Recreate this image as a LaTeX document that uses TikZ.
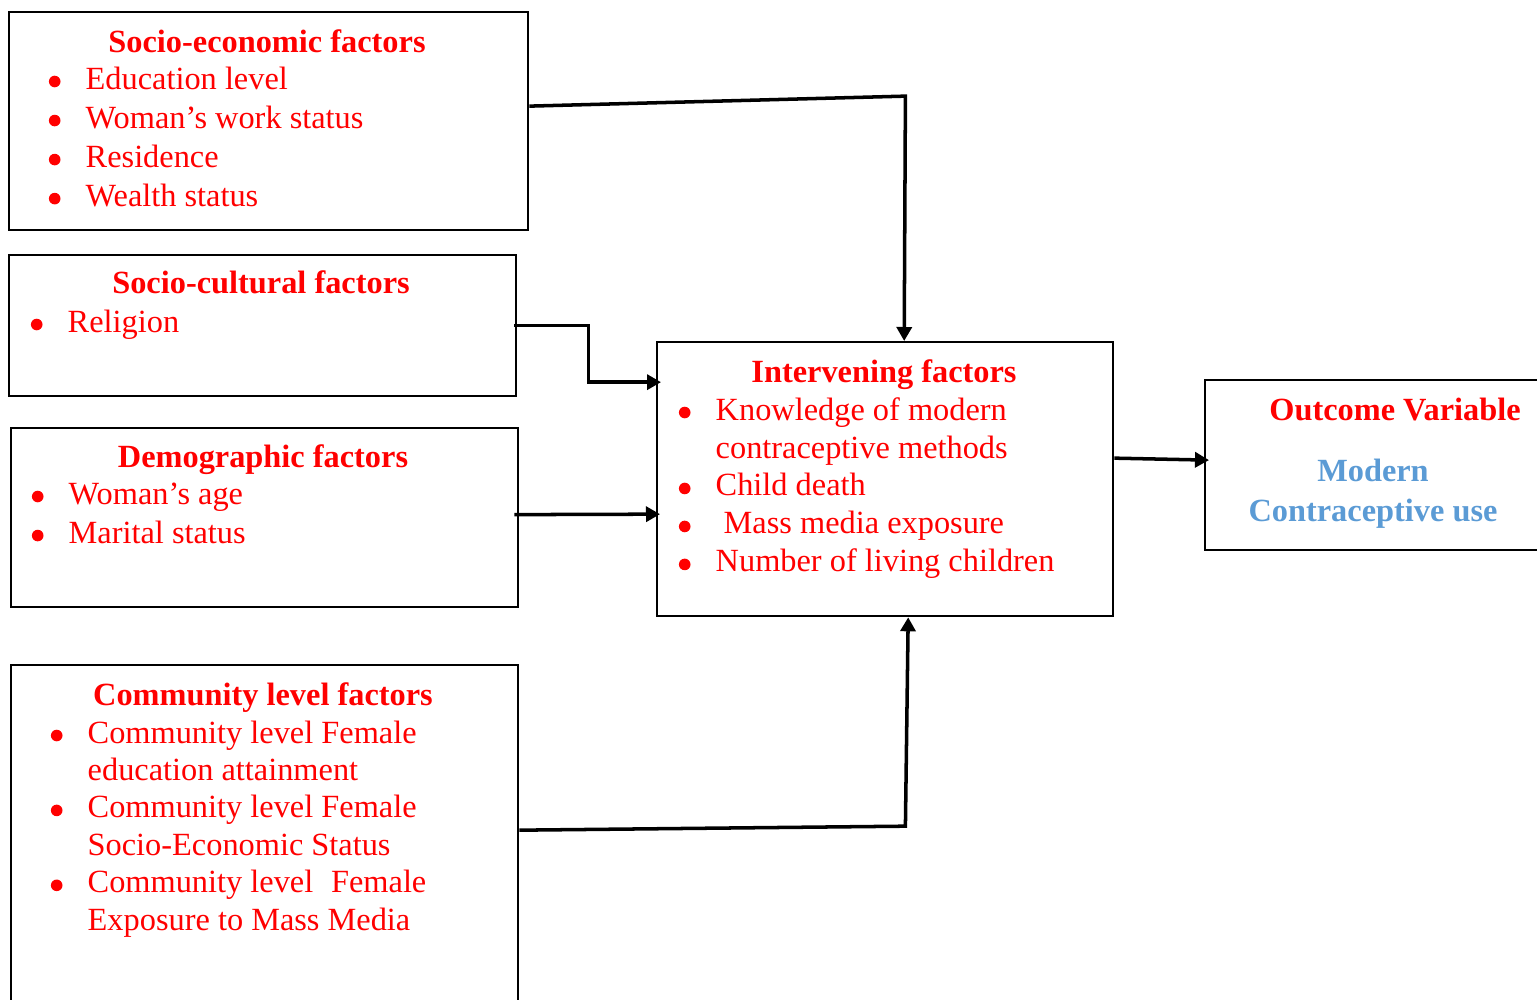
\documentclass[tikz,border=0pt]{standalone}
\usepackage{fontspec}
\setmainfont{Liberation Serif}
\usepackage{xcolor}
\usepackage{tikz}
\usetikzlibrary{positioning, arrows.meta, calc}
\definecolor{fcred}{HTML}{FF0000}
\definecolor{fcblue}{HTML}{5B9BD5}
\newcommand{\bodyfont}{\fontsize{9.2}{11.1}\selectfont}
\newcommand{\itm}{\makebox[0.31cm][l]{\makebox[0pt]{\tikz[baseline=0pt]\fill[fcred] (0,0.075cm) circle (0.058cm);}}}
\newcommand{\ind}{\hspace*{0.31cm}}

\begin{document}
\begin{tikzpicture}[
  x=0.01cm, y=-0.01cm,
  box/.style={
    rectangle, draw=black, line width=0.6pt, anchor=north west, inner sep=0pt
  },
  head/.style={
    anchor=base, inner sep=0pt, text=fcred, font=\bodyfont\bfseries
  },
  items/.style={
    anchor=base west, inner sep=0pt, text=fcred, font=\bodyfont
  },
  arr/.style={-{Triangle[length=0.14cm, width=0.15cm]}, line width=1pt, color=black},
]
\useasboundingbox (0,0) rectangle (1537,999);

% Boites des facteurs
\node[box, minimum width=5.19cm, minimum height=2.18cm] (socioeco) at (8,11) {};
\node[box, minimum width=5.07cm, minimum height=1.41cm] (soccult) at (8,254) {};
\node[box, minimum width=5.07cm, minimum height=1.79cm] (demog) at (10,427) {};
\node[box, minimum width=5.07cm, minimum height=3.46cm] (commun) at (10,664) {};
\node[box, minimum width=4.56cm, minimum height=2.74cm] (interv) at (656,341) {};
\node[box, minimum width=3.41cm, minimum height=1.70cm] (outcome) at (1204,379) {};

% Textes
\node[head] (socioecoH) at (267,52) {Socio-economic factors};
\node[items] (socioecoL) at (54,89) {\begin{tabular}[t]{@{}l@{}}
  \itm Education level\\
  \itm Woman’s work status\\
  \itm Residence\\
  \itm Wealth status
\end{tabular}};

\node[head] (soccultH) at (261,293) {Socio-cultural factors};
\node[items] (soccultL) at (36,332) {\begin{tabular}[t]{@{}l@{}}
  \itm Religion
\end{tabular}};

\node[head] (demogH) at (263,467) {Demographic factors};
\node[items] (demogL) at (37,504) {\begin{tabular}[t]{@{}l@{}}
  \itm Woman’s age\\
  \itm Marital status
\end{tabular}};

\node[head] (communH) at (263,705) {Community level factors};
\node[items, font=\fontsize{9.2}{10.65}\selectfont] (communL) at (56,743) {\begin{tabular}[t]{@{}l@{}}
  \itm Community level Female\\
  \ind education attainment\\
  \itm Community level Female\\
  \ind Socio-Economic Status\\
  \itm Community level\hspace{0.3em} Female\\
  \ind Exposure to Mass Media
\end{tabular}};

\node[head] (intervH) at (884,382) {Intervening factors};
\node[items, font=\fontsize{9.2}{10.8}\selectfont] (intervL) at (684,420) {\begin{tabular}[t]{@{}l@{}}
  \itm Knowledge of modern\\
  \ind contraceptive methods\\
  \itm Child death\\
  \itm \hspace{0.08cm}Mass media exposure\\
  \itm Number of living children
\end{tabular}};

\node[head] (outcomeH) at (1395,420) {Outcome Variable};
\node[head, text=fcblue, font=\fontsize{9.2}{11.4}\selectfont\bfseries] (outcomeL) at (1373,481) {\begin{tabular}[t]{@{}c@{}}
  Modern\\
  Contraceptive use
\end{tabular}};

% Connecteurs
\draw[arr] ($(socioeco.east)+(0,-15)$) -- ++(376,-10) -- ($(interv.north)+(19,0)$);
\draw[arr] ($(soccult.east)+(-3,0)$) -- ++(74,0) |- ($(interv.west)+(5,-97)$);
\draw[arr] ($(demog.east)+(-5,-3)$) -- ($(interv.west)+(4,35)$);
\draw[arr] ($(commun.east)+(0,-8)$) -- ++(386,-4) -- ($(interv.south)+(23,0)$);
\draw[arr] ($(interv.east)+(0,-21)$) -- ($(outcome.west)+(5,-5)$);

\end{tikzpicture}
\end{document}
